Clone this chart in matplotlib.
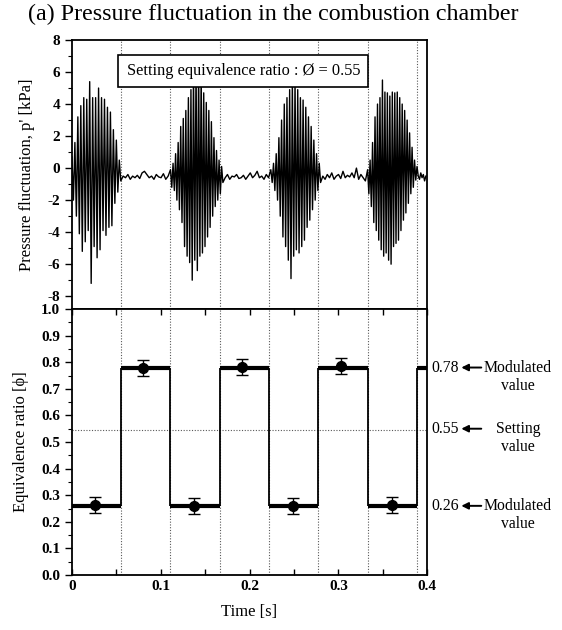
import numpy as np
import matplotlib
matplotlib.use("Agg")
import matplotlib.pyplot as plt
from matplotlib.ticker import MultipleLocator

plt.rcParams['font.family'] = ['Liberation Serif', 'DejaVu Serif']
plt.rcParams['axes.unicode_minus'] = False

# ---------------- data ----------------
# burst intervals (s) of the pressure oscillation
burst_starts = [0.000, 0.111, 0.224, 0.333]
burst_ends = [0.055, 0.170, 0.280, 0.390]

# positive / negative extrema of each burst [kPa]
b1_pos = [0.7, 1.6, 3.2, 3.9, 4.4, 4.3, 5.4, 4.4, 4.4, 5.0, 4.4, 4.3, 3.8, 3.5, 2.4, 1.75, 0.5]
b1_neg = [-2.0, -3.0, -4.1, -5.2, -4.6, -3.9, -7.2, -4.9, -5.6, -5.1, -3.9, -4.2, -3.7, -3.6, -2.2, -1.5, -0.8]
b2_pos = [-0.1, 0.3, 0.9, 1.6, 2.6, 3.1, 3.6, 4.4, 4.9, 6.2, 6.5, 6.4, 6.0, 4.7, 4.1, 3.6, 2.9, 1.9, 1.1, 0.5, 0.1]
b2_neg = [-1.2, -1.4, -2.0, -2.6, -3.4, -4.9, -5.5, -5.9, -7.0, -5.75, -6.4, -5.5, -5.3, -4.9, -4.3, -3.7, -3.0, -2.4, -2.0, -1.6, -0.9]
b3_pos = [-0.1, 0.3, 0.9, 1.9, 3.0, 4.0, 4.4, 4.9, 5.5, 5.5, 4.9, 4.4, 4.25, 3.8, 3.2, 2.6, 1.75, 0.9, 0.3]
b3_neg = [-0.9, -1.4, -2.0, -3.0, -4.3, -4.9, -5.75, -6.9, -5.5, -5.1, -5.3, -4.9, -4.5, -3.7, -3.25, -2.6, -2.0, -1.4, -0.9]
b4_pos = [-0.1, 0.5, 1.6, 3.2, 4.0, 4.4, 5.5, 4.75, 4.7, 4.5, 4.75, 4.7, 4.75, 4.4, 4.0, 3.6, 3.0, 2.2, 1.3, 0.5, 0.1]
b4_neg = [-1.6, -2.4, -3.4, -3.9, -4.5, -5.1, -5.5, -5.3, -5.75, -6.0, -4.9, -4.7, -4.5, -3.9, -3.25, -2.8, -2.2, -1.6, -1.2, -0.75, -0.5]

# quiet (stable) segments [kPa]
q1 = [-0.5, -0.6, -0.4, -0.7, -0.5, -0.6, -0.45, -0.65, -0.3, -0.2, -0.4, -0.6, -0.5, -0.7, -0.4, -0.55, -0.6, -0.35, -0.7, -0.5]
q2 = [-0.6, -0.4, -0.7, -0.5, -0.55, -0.4, -0.65, -0.6, -0.45, -0.7, -0.5, -0.3, -0.6, -0.45, -0.2, -0.6, -0.5, -0.7, -0.4, -0.6]
q3 = [-0.5, -0.7, -0.4, -0.6, -0.3, -0.7, -0.5, -0.4, -0.65, -0.2, -0.6, -0.45, -0.55, -0.3, -0.6, 0.0, -0.7, -0.4, -0.6, -0.8]
q4 = [-0.7, -0.3, -0.6, -0.4, -0.8, -0.5]

# equivalence ratio modulation
switch_times = [0.0, 0.0555, 0.111, 0.1665, 0.222, 0.2775, 0.333, 0.3885, 0.4]
phi_levels = [0.26, 0.78, 0.26, 0.78, 0.26, 0.78, 0.26, 0.78]
phi_set = 0.545

meas_t = [0.026, 0.080, 0.137, 0.192, 0.249, 0.303, 0.360]
meas_phi = [0.262, 0.780, 0.258, 0.782, 0.258, 0.784, 0.262]
meas_err = [0.030, 0.030, 0.030, 0.030, 0.030, 0.030, 0.030]

xticks = [0, 0.1, 0.2, 0.3, 0.4]
xticklabels = ['0', '0.1', '0.2', '0.3', '0.4']

# ---------------- build pressure trace ----------------
bursts_pos = [b1_pos, b2_pos, b3_pos, b4_pos]
bursts_neg = [b1_neg, b2_neg, b3_neg, b4_neg]
quiets = [q1, q2, q3, q4]
quiet_ends = [burst_starts[1], burst_starts[2], burst_starts[3], 0.4]

t_all, p_all = [], []
for i in range(4):
    vals = []
    for a, b in zip(bursts_pos[i], bursts_neg[i]):
        vals += [a, b]
    tt = np.linspace(burst_starts[i], burst_ends[i], len(vals))
    t_all += list(tt)
    p_all += vals
    qt = np.linspace(burst_ends[i], quiet_ends[i], len(quiets[i]) + 2)[1:-1]
    t_all += list(qt)
    p_all += quiets[i]

# ---------------- figure ----------------
fig = plt.figure(figsize=(5.62, 6.30), dpi=100)
ax1 = fig.add_axes([0.128, 0.5095, 0.632, 0.427])
ax2 = fig.add_axes([0.128, 0.0873, 0.632, 0.4222])

dot_kw = dict(color='0.35', lw=0.8, ls=(0, (1, 1.5)), zorder=1)
for ax in (ax1, ax2):
    for st in switch_times[1:-1]:
        ax.axvline(st, **dot_kw)
    ax.set_xlim(0, 0.4)
    for s in ax.spines.values():
        s.set_linewidth(1.3)

# top panel
ax1.plot(t_all, p_all, color='black', lw=1.0, zorder=2)
ax1.set_ylim(-8.8, 8)
ax1.yaxis.set_major_locator(MultipleLocator(2))
ax1.yaxis.set_minor_locator(MultipleLocator(1))
ax1.set_xticks([])
ax1.tick_params(axis='y', which='major', direction='out', length=5, width=1, labelsize=11)
ax1.tick_params(axis='y', which='minor', direction='out', length=3, width=0.8)
ax1.set_ylabel("Pressure fluctuation, p' [kPa]", fontsize=12, labelpad=9)
for lab in ax1.get_yticklabels():
    lab.set_fontweight('bold')
ax1.text(0.193, 6.05, 'Setting equivalence ratio : Ø = 0.55', fontsize=11.8,
         ha='center', va='center', zorder=5,
         bbox=dict(boxstyle='square,pad=0.5', fc='white', ec='black', lw=1.2))

# bottom panel
for i, lvl in enumerate(phi_levels):
    ax2.hlines(lvl, switch_times[i], switch_times[i + 1], color='black', lw=3, zorder=3)
for i in range(1, len(switch_times) - 1):
    ax2.vlines(switch_times[i], min(phi_levels[i - 1], phi_levels[i]),
               max(phi_levels[i - 1], phi_levels[i]), color='black', lw=1.3, zorder=3)
ax2.axhline(phi_set, **dot_kw)
ax2.errorbar(meas_t, meas_phi, yerr=meas_err, fmt='o', color='black', ms=7,
             capsize=4, elinewidth=1.0, capthick=1.0, zorder=4)
ax2.set_ylim(0, 1.0)
ax2.yaxis.set_major_locator(MultipleLocator(0.1))
ax2.yaxis.set_minor_locator(MultipleLocator(0.05))
ax2.set_xticks(xticks)
ax2.set_xticklabels(xticklabels)
ax2.xaxis.set_minor_locator(MultipleLocator(0.05))
ax2.tick_params(axis='x', which='both', direction='in', top=True, length=4, width=1, labelsize=11)
ax2.tick_params(axis='y', which='major', direction='out', length=5, width=1, labelsize=11)
ax2.tick_params(axis='y', which='minor', direction='out', length=3, width=0.8)
ax2.set_yticks(np.round(np.arange(0, 1.01, 0.1), 1))
ax2.set_yticklabels([f'{v:.1f}' for v in np.arange(0, 1.01, 0.1)])
for lab in ax2.get_yticklabels() + ax2.get_xticklabels():
    lab.set_fontweight('bold')
ax2.set_ylabel('Equivalence ratio [ϕ]', fontsize=12, labelpad=9)
ax2.set_xlabel('Time [s]', fontsize=12, labelpad=8)

# right-side annotations
annots = [(0.78, '0.78', 'Modulated'), (0.55, '0.55', 'Setting'), (0.26, '0.26', 'Modulated')]
for yv, num, word in annots:
    ax2.text(0.4053, yv, num, fontsize=11.3, ha='left', va='center', clip_on=False)
    ax2.annotate('', xy=(0.4385, yv), xytext=(0.4610, yv), xycoords='data',
                 annotation_clip=False,
                 arrowprops=dict(arrowstyle='-|>', color='black', lw=1.4,
                                 mutation_scale=10, shrinkA=0, shrinkB=0))
    ax2.text(0.5025, yv, word, fontsize=11.3, ha='center', va='center', clip_on=False)
    ax2.text(0.5025, yv - 0.068, 'value', fontsize=11.3, ha='center', va='center', clip_on=False)

fig.text(0.05, 0.977, '(a) Pressure fluctuation in the combustion chamber', fontsize=17.3,
         ha='left', va='center')

fig.savefig('out.png', dpi=100)
